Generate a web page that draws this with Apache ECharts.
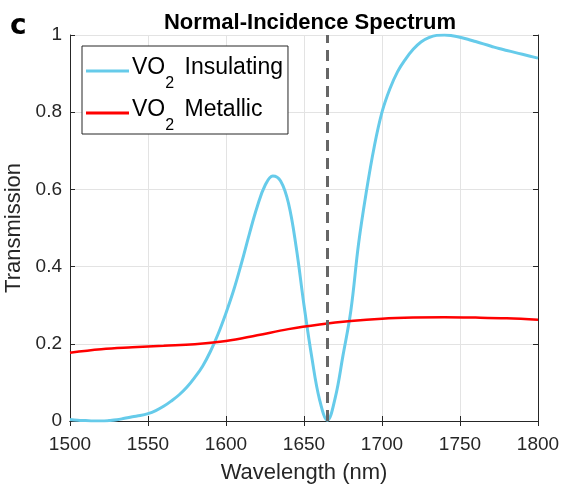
<!DOCTYPE html>
<html><head><meta charset="utf-8">
<script src="https://cdn.jsdelivr.net/npm/echarts@6/dist/echarts.min.js"></script>
<style>html,body{margin:0;padding:0;background:#fff}#c{width:564px;height:484px}</style>
</head><body><div id="c"></div>
<script>
const insWl = [1500,1505,1510,1515,1520,1525,1530,1535,1540,1545,1550,1555,1560,1565,1570,1575,1580,1585,1590,1595,1600,1605,1610,1615,1620,1625,1630,1635,1640,1645,1650,1655,1660,1665,1670,1675,1680,1685,1690,1695,1700,1705,1710,1715,1720,1725,1730,1735,1740,1745,1750,1755,1760,1765,1770,1775,1780,1785,1790,1795,1800];
const insT  = [0.004,0.002,0.001,0.0,0.0,0.001,0.003,0.007,0.011,0.014,0.019,0.027,0.038,0.052,0.068,0.088,0.113,0.142,0.18,0.226,0.28,0.34,0.41,0.485,0.555,0.61,0.635,0.622,0.565,0.45,0.30,0.165,0.055,0.002,0.06,0.17,0.285,0.46,0.595,0.71,0.80,0.86,0.905,0.937,0.963,0.982,0.993,0.999,1.0,0.998,0.994,0.989,0.983,0.977,0.971,0.965,0.96,0.955,0.95,0.945,0.94];
const metWl = [1500,1520,1540,1560,1580,1600,1620,1640,1660,1680,1700,1720,1740,1760,1780,1800];
const metT  = [0.177,0.186,0.191,0.195,0.199,0.207,0.222,0.238,0.25,0.259,0.265,0.268,0.269,0.268,0.266,0.262];
const xTicks = [1500,1550,1600,1650,1700,1750,1800];
const yTicks = [0,0.2,0.4,0.6,0.8,1];
const markWl = 1665;
const seriesNames = ['VO2 Insulating','VO2 Metallic'];

const chart = echarts.init(document.getElementById('c'), null, {renderer:'canvas'});
const axCol = '#262626';
const font = 'Liberation Sans, Arial, sans-serif';
chart.setOption({
  animation:false,
  backgroundColor:'#fff',
  title:{text:'Normal-Incidence Spectrum', left:305, top:7, textAlign:'center',
    textStyle:{fontFamily:font,fontWeight:'bold',fontSize:22,color:'#000'}},
  graphic:[{type:'text', left:10, top:13, style:{text:'c', font:'bold 28px "DejaVu Sans", sans-serif', fill:'#000'}}],
  grid:{left:70,right:26,top:35,bottom:63,containLabel:false,outerBoundsMode:'none'},
  legend:{
    left:82, top:46, orient:'vertical', padding:[4,5,0,4], itemGap:0,
    backgroundColor:'#fff', borderColor:axCol, borderWidth:1, borderRadius:0,
    itemWidth:43, itemHeight:3,
    icon:'rect',
    data:seriesNames,
    formatter:function(n){ const p=n.split(' '); return '{a|VO}{s|2}{a| '+p.slice(1).join(' ')+'}'; },
    textStyle:{fontFamily:font,fontSize:23,color:'#000',padding:[0,0,0,-2],
      rich:{a:{fontFamily:font,fontSize:23,color:'#000',lineHeight:42,verticalAlign:'top',padding:[6,0,0,0]},
            s:{fontFamily:font,fontSize:16,color:'#000',lineHeight:42,verticalAlign:'bottom',padding:[0,4,0,0]}}}
  },
  xAxis:[{type:'value',min:1500,max:1800,interval:50,
    name:'Wavelength (nm)',nameLocation:'middle',nameGap:41,
    nameTextStyle:{fontFamily:font,fontSize:22,color:axCol},
    axisLine:{show:true,lineStyle:{color:axCol,width:1}},
    axisTick:{show:true,inside:true,length:5,lineStyle:{color:axCol}},
    axisLabel:{fontFamily:font,fontSize:19,color:axCol,margin:14,formatter:v=>String(v)},
    splitLine:{show:true,lineStyle:{color:'#e3e3e3',width:1}}},
   {type:'value',position:'top',min:1500,max:1800,interval:50,
    axisLine:{show:true,lineStyle:{color:axCol,width:1}},
    axisTick:{show:true,inside:true,length:5,lineStyle:{color:axCol}},
    axisLabel:{show:false},splitLine:{show:false}}],
  yAxis:[{type:'value',min:0,max:1,interval:0.2,
    name:'Transmission',nameLocation:'middle',nameGap:40,
    nameTextStyle:{fontFamily:font,fontSize:22,color:axCol},
    axisLine:{show:true,lineStyle:{color:axCol,width:1}},
    axisTick:{show:true,inside:true,length:5,lineStyle:{color:axCol}},
    axisLabel:{fontFamily:font,fontSize:19,color:axCol,margin:8},
    splitLine:{show:true,lineStyle:{color:'#e3e3e3',width:1}}},
   {type:'value',position:'right',min:0,max:1,interval:0.2,
    axisLine:{show:true,lineStyle:{color:axCol,width:1}},
    axisTick:{show:true,inside:true,length:5,lineStyle:{color:axCol}},
    axisLabel:{show:false},splitLine:{show:false}}],
  series:[
    {name:seriesNames[0],type:'line',showSymbol:false,smooth:0.4,
     data:insWl.map((w,i)=>[w,insT[i]]),
     lineStyle:{color:'#66CBEA',width:3},itemStyle:{color:'#66CBEA'},z:3},
    {name:seriesNames[1],type:'line',showSymbol:false,smooth:0.4,
     data:metWl.map((w,i)=>[w,metT[i]]),
     lineStyle:{color:'#FF0000',width:2.5},itemStyle:{color:'#FF0000'},z:4,
     markLine:{silent:true,symbol:'none',label:{show:false},
       lineStyle:{color:'#666666',width:3,type:[11,7]},
       data:[{xAxis:markWl}]}}
  ]
});
</script></body></html>
